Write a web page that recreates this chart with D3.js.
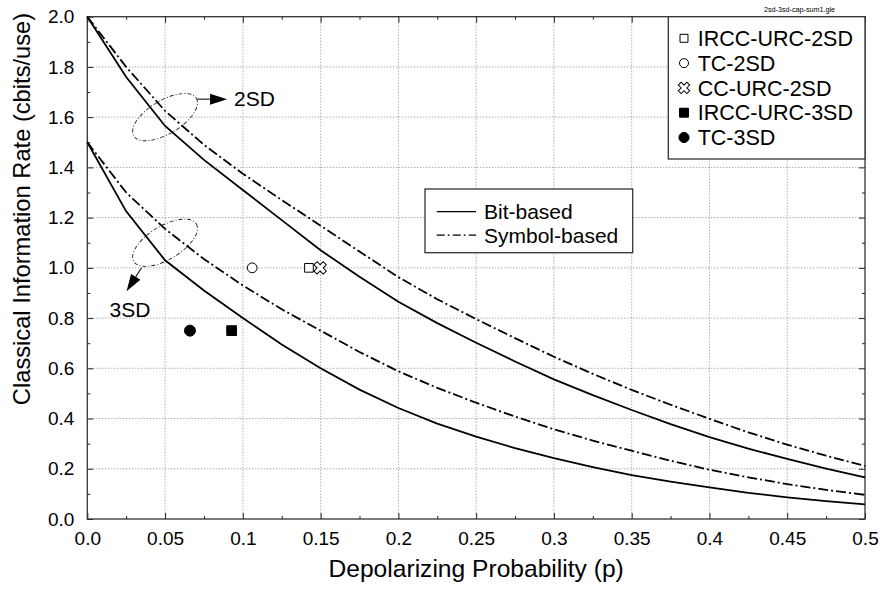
<!DOCTYPE html>
<html>
<head>
<meta charset="utf-8">
<script src="https://cdn.jsdelivr.net/npm/d3@7"></script>
<style>
  body { margin: 0; background: #fff; }
  text { font-family: "Liberation Sans", Arial, Helvetica, sans-serif; fill: #000; }
</style>
</head>
<body>
<div id="chart"></div>
<script>
// depolarizing probability samples
var pValues = [0, 0.025, 0.05, 0.075, 0.1, 0.125, 0.15, 0.175, 0.2, 0.225, 0.25,
               0.275, 0.3, 0.325, 0.35, 0.375, 0.4, 0.425, 0.45, 0.475, 0.5];

// rates
var bit2SD = [2.0, 1.76, 1.565, 1.43, 1.31, 1.19, 1.07, 0.965, 0.865, 0.78, 0.702,
              0.627, 0.556, 0.493, 0.434, 0.378, 0.326, 0.28, 0.239, 0.201, 0.166];
var sym2SD = [2.0, 1.80, 1.625, 1.49, 1.375, 1.27, 1.168, 1.065, 0.963, 0.875, 0.796,
              0.72, 0.646, 0.578, 0.514, 0.455, 0.399, 0.345, 0.296, 0.252, 0.211];
var bit3SD = [1.5, 1.225, 1.03, 0.91, 0.80, 0.695, 0.60, 0.515, 0.442, 0.38, 0.328,
              0.282, 0.242, 0.207, 0.175, 0.149, 0.126, 0.104, 0.086, 0.071, 0.058];
var sym3SD = [1.5, 1.30, 1.155, 1.035, 0.93, 0.835, 0.75, 0.665, 0.588, 0.522, 0.463,
              0.408, 0.357, 0.312, 0.272, 0.232, 0.196, 0.166, 0.139, 0.116, 0.096];

// single points
var pointNames = ["IRCC-URC-2SD", "TC-2SD", "CC-URC-2SD", "IRCC-URC-3SD", "TC-3SD"];
var pointP = [0.1425, 0.106, 0.1497, 0.0928, 0.066];
var pointRate = [1.0, 1.0, 1.0, 0.75, 0.75];
var pointShape = ["square", "circle", "cross", "square", "circle"];
var pointFilled = [false, false, false, true, true];

var lineNames = ["Bit-based", "Symbol-based"];

// ellipse annotations
var groupLabels = ["2SD", "3SD"];
var groupP = [0.05, 0.05];
var groupRate = [1.6, 1.1];

var xMajor = [0, 0.05, 0.1, 0.15, 0.2, 0.25, 0.3, 0.35, 0.4, 0.45, 0.5];
var xLabels = ["0.0", "0.05", "0.1", "0.15", "0.2", "0.25", "0.3", "0.35", "0.4", "0.45", "0.5"];
var xMinor = [0.025, 0.075, 0.125, 0.175, 0.225, 0.275, 0.325, 0.375, 0.425, 0.475];
var yMajor = [0, 0.2, 0.4, 0.6, 0.8, 1.0, 1.2, 1.4, 1.6, 1.8, 2.0];
var yMinor = [0.1, 0.3, 0.5, 0.7, 0.9, 1.1, 1.3, 1.5, 1.7, 1.9];

var margin = {top: 16.7, right: 19, bottom: 70, left: 87.3};
var width = 884 - margin.left - margin.right;
var height = 589 - margin.top - margin.bottom;

var svg = d3.select("#chart")
  .append("svg")
    .attr("width", 884)
    .attr("height", 589)
  .append("g")
    .attr("transform", "translate(" + margin.left + "," + margin.top + ")");

var x = d3.scaleLinear().domain([0, 0.5]).range([0, width]);
var y = d3.scaleLinear().domain([0, 2]).range([height, 0]);

// grid
svg.append("g").selectAll("line")
  .data(xMajor.slice(1, -1))
  .enter().append("line")
    .attr("x1", function(d) { return x(d); })
    .attr("x2", function(d) { return x(d); })
    .attr("y1", 0).attr("y2", height)
    .attr("stroke", "#8a8a8a").attr("stroke-width", 1)
    .attr("stroke-dasharray", "1,2");
svg.append("g").selectAll("line")
  .data(yMajor.slice(1, -1))
  .enter().append("line")
    .attr("y1", function(d) { return y(d); })
    .attr("y2", function(d) { return y(d); })
    .attr("x1", 0).attr("x2", width)
    .attr("stroke", "#8a8a8a").attr("stroke-width", 1)
    .attr("stroke-dasharray", "1,2");

// axes, ticks pointing inward
function styleAxis(g) {
  g.select(".domain").remove();
  g.selectAll(".tick line").attr("stroke", "#222").attr("stroke-width", 1);
  g.selectAll(".tick text").style("font-size", "19px")
    .style("font-family", "'Liberation Sans', Arial, sans-serif").attr("fill", "#000");
}
svg.append("g")
  .attr("transform", "translate(0," + height + ")")
  .call(d3.axisBottom(x).tickValues(xMajor).tickSize(-6).tickPadding(13)
    .tickFormat(function(d, i) { return xLabels[i]; }))
  .call(styleAxis);
svg.append("g")
  .attr("transform", "translate(0," + height + ")")
  .call(d3.axisBottom(x).tickValues(xMinor).tickSize(-3).tickFormat(""))
  .call(styleAxis);
svg.append("g")
  .call(d3.axisTop(x).tickValues(xMajor).tickSize(-6).tickFormat(""))
  .call(styleAxis);
svg.append("g")
  .call(d3.axisTop(x).tickValues(xMinor).tickSize(-3).tickFormat(""))
  .call(styleAxis);
svg.append("g")
  .call(d3.axisLeft(y).tickValues(yMajor).tickSize(-6).tickPadding(13)
    .tickFormat(d3.format(".1f")))
  .call(styleAxis);
svg.append("g")
  .call(d3.axisLeft(y).tickValues(yMinor).tickSize(-3).tickFormat(""))
  .call(styleAxis);
svg.append("g")
  .attr("transform", "translate(" + width + ",0)")
  .call(d3.axisRight(y).tickValues(yMajor).tickSize(-6).tickFormat(""))
  .call(styleAxis);
svg.append("g")
  .attr("transform", "translate(" + width + ",0)")
  .call(d3.axisRight(y).tickValues(yMinor).tickSize(-3).tickFormat(""))
  .call(styleAxis);

// frame
svg.append("rect")
  .attr("x", 0).attr("y", 0).attr("width", width).attr("height", height)
  .attr("fill", "none").attr("stroke", "#333").attr("stroke-width", 1.3);

// curves
var dashDot = "10,3,2,3";
var curves = [
  {vals: bit2SD, dash: null},
  {vals: sym2SD, dash: dashDot},
  {vals: bit3SD, dash: null},
  {vals: sym3SD, dash: dashDot}
];
curves.forEach(function(c) {
  svg.append("path")
    .datum(pValues)
    .attr("fill", "none")
    .attr("stroke", "#000")
    .attr("stroke-width", 1.8)
    .attr("stroke-dasharray", c.dash)
    .attr("d", d3.line()
      .x(function(d) { return x(d); })
      .y(function(d, i) { return y(c.vals[i]); }));
});

// marker shapes
function shapePath(shape, size) {
  if (shape === "square") return d3.symbol().type(d3.symbolSquare).size(size)();
  if (shape === "circle") return d3.symbol().type(d3.symbolCircle).size(size)();
  return d3.symbol().type(d3.symbolCross).size(size)();
}
function drawMarker(g, i, cx, cy, scale) {
  var size = pointFilled[i] ? 95 : 75;
  if (pointShape[i] === "cross") size = 95;
  g.append("path")
    .attr("d", shapePath(pointShape[i], size * scale))
    .attr("transform", "translate(" + cx + "," + cy + ")" + (pointShape[i] === "cross" ? " rotate(45)" : ""))
    .attr("fill", pointFilled[i] ? "#000" : "#fff")
    .attr("stroke", "#000")
    .attr("stroke-width", 1);
}
pointNames.forEach(function(n, i) {
  drawMarker(svg, i, x(pointP[i]), y(pointRate[i]), 1);
});

// ellipses with arrows
var arrowG = svg.append("g");
function arrow(x1, y1, x2, y2) {
  var ang = Math.atan2(y2 - y1, x2 - x1);
  var hl = 17, hw = 5.5;
  var bx = x2 - hl * Math.cos(ang), by = y2 - hl * Math.sin(ang);
  arrowG.append("line")
    .attr("x1", x1).attr("y1", y1).attr("x2", bx).attr("y2", by)
    .attr("stroke", "#222").attr("stroke-width", 1.2);
  arrowG.append("path")
    .attr("d", "M" + x2 + "," + y2 +
      "L" + (bx - hw * Math.sin(ang)) + "," + (by + hw * Math.cos(ang)) +
      "L" + (bx + hw * Math.sin(ang)) + "," + (by - hw * Math.cos(ang)) + "Z")
    .attr("fill", "#000");
}
groupLabels.forEach(function(lab, i) {
  var cx = x(groupP[i]), cy = y(groupRate[i]);
  arrowG.append("ellipse")
    .attr("cx", 0).attr("cy", 0).attr("rx", 36.5).attr("ry", 16.7)
    .attr("transform", "translate(" + cx + "," + cy + ") rotate(-31)")
    .attr("fill", "none").attr("stroke", "#222").attr("stroke-width", 0.9)
    .attr("stroke-dasharray", "4,2,1,2");
  if (i === 0) {
    arrow(cx + 32, cy - 18, cx + 62, cy - 18);
    arrowG.append("text").attr("x", cx + 69).attr("y", cy - 11.5)
      .style("font-size", "21px").text(lab);
  } else {
    arrow(cx + 23.5 - 47, cy + 25, cx - 38.5, cy + 48.5);
    arrowG.append("text").attr("x", cx - 55.5).attr("y", cy + 74.5)
      .style("font-size", "21px").text(lab);
  }
});

// legend for points
var leg1 = svg.append("g").attr("transform", "translate(" + (668.3 - margin.left) + ",0)");
leg1.append("rect")
  .attr("x", 0).attr("y", 0).attr("width", 865 - 668.3).attr("height", 142.3)
  .attr("fill", "#fff").attr("stroke", "#333").attr("stroke-width", 1.3);
pointNames.forEach(function(n, i) {
  var ry = 21.6 + i * 24.8;
  drawMarker(leg1, i, 15.7, ry, 0.85);
  leg1.append("text")
    .attr("x", 29.4).attr("y", ry + 7.8)
    .style("font-size", "21.5px")
    .text(n);
});

// legend for line styles
var leg2 = svg.append("g").attr("transform", "translate(" + (425 - margin.left) + "," + (189 - margin.top) + ")");
leg2.append("rect")
  .attr("x", 0).attr("y", 0).attr("width", 207.7).attr("height", 63.7)
  .attr("fill", "#fff").attr("stroke", "#333").attr("stroke-width", 1.3);
lineNames.forEach(function(n, i) {
  var ry = 22.7 + i * 23.5;
  leg2.append("line")
    .attr("x1", 11.7).attr("x2", 51).attr("y1", ry).attr("y2", ry)
    .attr("stroke", "#000").attr("stroke-width", 1.3)
    .attr("stroke-dasharray", i === 0 ? null : "8,3,2,3");
  leg2.append("text")
    .attr("x", 59).attr("y", ry + 7.5)
    .style("font-size", "21px")
    .text(n);
});

// axis titles
svg.append("text")
  .attr("x", width / 2).attr("y", 576.7 - margin.top)
  .attr("text-anchor", "middle")
  .style("font-size", "24.6px")
  .text("Depolarizing Probability (p)");
svg.append("text")
  .attr("transform", "translate(" + (30 - margin.left) + "," + (209 - margin.top) + ") rotate(-90)")
  .attr("text-anchor", "middle")
  .style("font-size", "23.7px")
  .text("Classical Information Rate (cbits/use)");

// file name tag
d3.select("svg").append("text")
  .attr("x", 764).attr("y", 12)
  .style("font-size", "7.2px")
  .attr("fill", "#222")
  .text("2sd-3sd-cap-sum1.gle");
</script>
</body>
</html>
